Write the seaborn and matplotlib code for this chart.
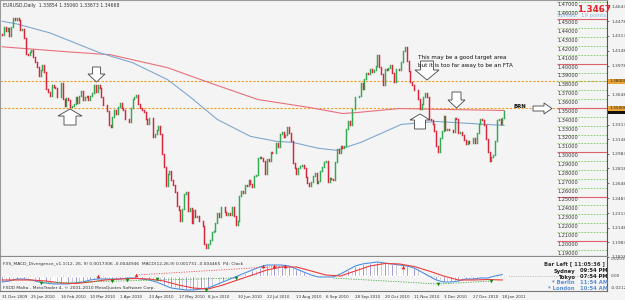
import numpy as np
import pandas as pd
import matplotlib
matplotlib.use("Agg")
import matplotlib.pyplot as plt
import seaborn as sns
from matplotlib.patches import Polygon, Rectangle

# ---------------- data ----------------
first_open = 1.4330
close_dec09 = [1.4321]
close_jan10 = [1.4413, 1.4364, 1.4403, 1.4313, 1.4411, 1.4513, 1.4494, 1.4513, 1.4496, 1.4385,
               1.4391, 1.4286, 1.4106, 1.4096, 1.4137, 1.4150, 1.4078, 1.4015, 1.3964, 1.3865]
close_feb10 = [1.3929, 1.3989, 1.3901, 1.3717, 1.3676, 1.3637, 1.3761, 1.3733, 1.3731, 1.3622,
               1.3629, 1.3784, 1.3604, 1.3522, 1.3614, 1.3588, 1.3511, 1.3523, 1.3540, 1.3628]
close_mar10 = [1.3561, 1.3630, 1.3696, 1.3586, 1.3624, 1.3634, 1.3595, 1.3638, 1.3669, 1.3757,
               1.3675, 1.3755, 1.3727, 1.3620, 1.3531, 1.3537, 1.3470, 1.3312, 1.3283, 1.3401,
               1.3475, 1.3432, 1.3509]
close_apr10 = [1.3553, 1.3497, 1.3477, 1.3379, 1.3374, 1.3345, 1.3500, 1.3600, 1.3625, 1.3652,
               1.3550, 1.3496, 1.3474, 1.3451, 1.3380, 1.3317, 1.3389, 1.3384, 1.3169, 1.3203,
               1.3247, 1.3295]
close_may10 = [1.3209, 1.2985, 1.2836, 1.2620, 1.2752, 1.2789, 1.2689, 1.2635, 1.2547, 1.2391,
               1.2347, 1.2220, 1.2361, 1.2527, 1.2556, 1.2337, 1.2373, 1.2206, 1.2352, 1.2271,
               1.2280]
close_jun10 = [1.2226, 1.2228, 1.2170, 1.1966, 1.1921, 1.1968, 1.2014, 1.2105, 1.2115, 1.2204,
               1.2319, 1.2268, 1.2387, 1.2386, 1.2321, 1.2289, 1.2316, 1.2292, 1.2380, 1.2280,
               1.2184, 1.2230]
close_jul10 = [1.2510, 1.2563, 1.2541, 1.2630, 1.2620, 1.2687, 1.2641, 1.2607, 1.2727, 1.2743,
               1.2935, 1.2945, 1.2939, 1.2899, 1.2759, 1.2928, 1.2900, 1.3000, 1.2990, 1.2995,
               1.3100, 1.3060]
close_aug10 = [1.3201, 1.3228, 1.3173, 1.3196, 1.3282, 1.3218, 1.3131, 1.2878, 1.2828, 1.2755,
               1.2825, 1.2850, 1.2854, 1.2818, 1.2719, 1.2654, 1.2623, 1.2663, 1.2728, 1.2762,
               1.2654, 1.2680]
close_sep10 = [1.2794, 1.2829, 1.2895, 1.2900, 1.2668, 1.2710, 1.2702, 1.2684, 1.2889, 1.3033,
               1.2992, 1.3072, 1.3053, 1.3070, 1.3260, 1.3354, 1.3308, 1.3487, 1.3490, 1.3619,
               1.3627, 1.3633]
close_oct10 = [1.3784, 1.3716, 1.3829, 1.3896, 1.3887, 1.3944, 1.3903, 1.3931, 1.3974, 1.4100,
               1.3965, 1.3889, 1.3760, 1.3940, 1.3929, 1.3948, 1.3988, 1.3890, 1.3795, 1.3935,
               1.3940]
close_nov10 = [1.3930, 1.4020, 1.4140, 1.4185, 1.4030, 1.3922, 1.3795, 1.3760, 1.3700, 1.3700,
               1.3600, 1.3487, 1.3546, 1.3620, 1.3670, 1.3620, 1.3375, 1.3360, 1.3320, 1.3235,
               1.3075, 1.3005]
close_dec10 = [1.3160, 1.3240, 1.3410, 1.3255, 1.3260, 1.3250, 1.3250, 1.3230, 1.3390, 1.3375,
               1.3220, 1.3230, 1.3190, 1.3140, 1.3090, 1.3130, 1.3105, 1.3107, 1.3165, 1.3110,
               1.3220, 1.3320, 1.3380]
close_jan11 = [1.3365, 1.3305, 1.3145, 1.3000, 1.2905, 1.2950, 1.2975, 1.3125, 1.3365, 1.3380,
               1.3315, 1.3385, 1.3467]

# moving averages (bar index, value)
ma_fast_bar = [0, 8, 26, 53, 71, 90, 102, 117, 135, 149, 158, 172, 182, 195, 206, 217, 236, 254, 273]
ma_fast = [1.4480, 1.4449, 1.4348, 1.4124, 1.4011, 1.3820, 1.3629, 1.3371, 1.3180, 1.3124,
           1.3112, 1.3045, 1.3022, 1.3112, 1.3213, 1.3315, 1.3348, 1.3326, 1.3303]
ma_slow_bar = [0, 35, 59, 90, 111, 139, 167, 185, 193, 216, 243, 273]
ma_slow = [1.4191, 1.4135, 1.4101, 1.3955, 1.3798, 1.3596, 1.3506, 1.3438, 1.3449, 1.3494,
           1.3483, 1.3472]

hline_levels = [1.3800, 1.3500]

grid_levels = [1.19, 1.20, 1.21, 1.22, 1.23, 1.24, 1.25, 1.26, 1.27, 1.28, 1.29, 1.30, 1.31,
               1.32, 1.33, 1.34, 1.35, 1.36, 1.37, 1.38, 1.39, 1.40, 1.41, 1.42, 1.43, 1.44,
               1.45, 1.46, 1.47]
round_levels = [1.20, 1.25, 1.30, 1.35, 1.40, 1.45]
axis_ticks = [1.4643, 1.4478, 1.4313, 1.4148, 1.3978, 1.3648, 1.3313, 1.3148, 1.2983,
              1.2818, 1.2648, 1.2483, 1.2313, 1.2148, 1.1983, 1.1818]

date_labels = ["31 Dec 2009", "25 Jan 2010", "16 Feb 2010", "10 Mar 2010", "1 Apr 2010",
               "23 Apr 2010", "17 May 2010", "8 Jun 2010", "30 Jun 2010", "22 Jul 2010",
               "13 Aug 2010", "6 Sep 2010", "28 Sep 2010", "20 Oct 2010", "11 Nov 2010",
               "3 Dec 2010", "27 Dec 2010", "18 Jan 2011"]

# MACD (every 4 bars) and signal (every 8 bars)
macd_hist = [-0.0068, -0.0057, -0.0034, -0.0034, -0.0045, -0.0068, -0.0079, -0.0090, -0.0090, -0.0090,
             -0.0079, -0.0068, -0.0045, -0.0034, -0.0034, -0.0034, -0.0034, -0.0023, -0.0023, -0.0034,
             -0.0045, -0.0068, -0.0102, -0.0136, -0.0147, -0.0158, -0.0158, -0.0147, -0.0136, -0.0102,
             -0.0068, -0.0034, 0.0, 0.0034, 0.0068, 0.0102, 0.0124, 0.0124, 0.0124, 0.0113,
             0.0079, 0.0045, 0.0011, -0.0011, -0.0011, -0.0011, 0.0023, 0.0068, 0.0113, 0.0136,
             0.0147, 0.0158, 0.0147, 0.0136, 0.0124, 0.0113, 0.0090, 0.0045, 0.0, -0.0045,
             -0.0068, -0.0068, -0.0057, -0.0034, -0.0034, -0.0023, -0.0023, 0.0, 0.0017]
macd_signal = [-0.0045, -0.0045, -0.0045, -0.0057, -0.0079, -0.0085, -0.0068, -0.0045, -0.0034, -0.0028,
               -0.0034, -0.0057, -0.0102, -0.0136, -0.0147, -0.0102, -0.0045, 0.0011, 0.0068, 0.0102,
               0.0102, 0.0057, 0.0011, 0.0, 0.0057, 0.0113, 0.0141, 0.0136, 0.0107, 0.0057,
               0.0, -0.0045, -0.0045, -0.0040, -0.0045]
div_red_bar = [52, 73, 142, 148, 154, 218]
div_red_val = [0.0, 0.0011, 0.0113, 0.0113, 0.0113, 0.0102]
div_green_bar = [21, 60, 68, 84, 111, 127, 237, 266]
div_green_val = [-0.0079, -0.0057, -0.0045, -0.0034, -0.0158, -0.0023, -0.0090, -0.0057]

# ---------------- style ----------------
sns.set_style("white")
plt.rcParams["font.family"] = ["DejaVu Sans"]
BG = "#f4f4f4"
UP, DN = "#35a853", "#d7263a"

closes = (close_dec09 + close_jan10 + close_feb10 + close_mar10 + close_apr10 + close_may10 +
          close_jun10 + close_jul10 + close_aug10 + close_sep10 + close_oct10 + close_nov10 +
          close_dec10 + close_jan11)
n = len(closes)
opens = [first_open] + closes[:-1]
df = pd.DataFrame({"bar": np.arange(n), "open": opens, "close": closes})
df["up"] = df["close"] >= df["open"]

W, H = 625, 300
fig = plt.figure(figsize=(6.25, 3.0), dpi=100, facecolor=BG)


def px_axes(x0, y0, x1, y1):
    return fig.add_axes([x0 / W, 1 - y1 / H, (x1 - x0) / W, (y1 - y0) / H])


ax = px_axes(0, 0, 607, 257)
ax2 = px_axes(0, 257, 607, 291)
ov = px_axes(0, 0, 625, 300)

XL = (-2 / 1.84, 605 / 1.84)
for a in (ax, ax2):
    a.set_facecolor(BG)
    a.set_xlim(*XL)
ax.set_ylim(1.20 - 15 / 890, 1.20 + 242 / 890)
ax2.set_ylim(-0.01695, 0.02147)

# candles
upd = df[df["up"]]
dnd = df[~df["up"]]
ax.vlines(upd["bar"], upd["open"], upd["close"], colors=UP, lw=1.05, capstyle="projecting", zorder=3)
ax.vlines(dnd["bar"], dnd["open"], dnd["close"], colors=DN, lw=1.05, capstyle="projecting", zorder=3)

# moving averages
sns.lineplot(x=ma_slow_bar, y=ma_slow, ax=ax, color="#e8707c", lw=0.8, legend=False, zorder=2)
sns.lineplot(x=ma_fast_bar, y=ma_fast, ax=ax, color="#7fa8cf", lw=0.8, legend=False, zorder=2)

# horizontal lines
for lv in hline_levels:
    ax.axhline(lv, color="#f0a020", lw=0.8, ls=(0, (2, 1.5)), zorder=1)

# right price grid labels
ytr = ax.get_yaxis_transform()
for lv in grid_levels:
    if any(abs(lv - r) < 1e-9 for r in round_levels):
        ax.hlines(lv, 557 / 607, 1, transform=ytr, color="#e06070", lw=0.8, zorder=2)
    else:
        ax.hlines(lv, 557 / 607, 1, transform=ytr, color="#7cc860", lw=0.6,
                  ls=(0, (2, 1.6)), zorder=2)
    ax.text(557.5 / 607, lv - 0.0009, f"{lv:.5f}", transform=ytr, fontsize=3.6,
            color="#333333", ha="left", va="top", zorder=4)

# right axis
ax.yaxis.tick_right()
ax.set_yticks(axis_ticks)
ax.set_yticklabels([f"{v:.5f}" for v in axis_ticks])
ax.tick_params(axis="y", labelsize=3.2, length=1.5, pad=1.5, colors="#444444", width=0.5)
ax.set_xticks([])
ax.set_xlabel("")
ax.set_ylabel("")
for s in ("left", "top"):
    ax.spines[s].set_color("#9a9a9a")
    ax.spines[s].set_linewidth(0.8)
ax.spines["right"].set_color("#555555")
ax.spines["right"].set_linewidth(0.8)
ax.spines["bottom"].set_color("#8a8a8a")
ax.spines["bottom"].set_linewidth(1.6)

# ---------------- MACD panel ----------------
macd_bar = np.arange(len(macd_hist)) * 4
sig_bar = np.arange(len(macd_signal)) * 8
ax2.bar(macd_bar, macd_hist, width=1.0, color="#6656c8", zorder=2)
ax2.bar(macd_bar + 2, macd_hist, width=1.0, color="#a9a9b8", zorder=2)
ax2.axhline(0, color="#9a9a9a", lw=0.5, ls=(0, (1, 1.5)), zorder=1)
sns.lineplot(x=macd_bar, y=macd_hist, ax=ax2, color="#4d8fe0", lw=0.8, legend=False, zorder=3)
sns.lineplot(x=sig_bar, y=macd_signal, ax=ax2, color="#ee3b3b", lw=0.8, legend=False, zorder=3)
ax2.plot([div_red_bar[1], div_red_bar[4]], [div_red_val[1], div_red_val[4]],
         color="#ee5555", lw=0.6, ls=(0, (1.5, 1.5)), zorder=3)
ax2.plot([div_green_bar[0], div_green_bar[5]], [div_green_val[0], div_green_val[5]],
         color="#44aa44", lw=0.6, ls=(0, (1.5, 1.5)), zorder=3)
ax2.plot([180, div_green_bar[6], div_green_bar[7]], [-0.0023, div_green_val[6], div_green_val[7]],
         color="#44aa44", lw=0.6, ls=(0, (1.5, 1.5)), zorder=3)
sns.scatterplot(x=div_red_bar, y=div_red_val, ax=ax2, color="#e02020", marker="^", s=7,
                linewidth=0, legend=False, zorder=4)
sns.scatterplot(x=div_green_bar, y=div_green_val, ax=ax2, color="#128a12", marker="v", s=7,
                linewidth=0, legend=False, zorder=4)

ax2.set_xticks(np.arange(len(date_labels)) * 16)
ax2.set_xticklabels(date_labels, ha="left")
ax2.tick_params(axis="x", labelsize=2.9, length=2, pad=1.2, colors="#333333", width=0.5)
ax2.yaxis.tick_right()
ax2.set_yticks([])
ax2.set_xlabel("")
ax2.set_ylabel("")
ax2.spines["top"].set_visible(False)
ax2.spines["left"].set_color("#9a9a9a")
ax2.spines["left"].set_linewidth(0.8)
ax2.spines["right"].set_color("#555555")
ax2.spines["right"].set_linewidth(0.8)
ax2.spines["bottom"].set_color("#777777")
ax2.spines["bottom"].set_linewidth(0.8)

# ---------------- overlay (pixel coordinates) ----------------
ov.set_xlim(0, W)
ov.set_ylim(H, 0)
ov.axis("off")
ov.patch.set_alpha(0)


def down_arrow(cx, top, tip, sw, hw, hh):
    pts = [(cx - sw / 2, top), (cx + sw / 2, top), (cx + sw / 2, tip - hh), (cx + hw / 2, tip - hh),
           (cx, tip), (cx - hw / 2, tip - hh), (cx - sw / 2, tip - hh)]
    ov.add_patch(Polygon(pts, closed=True, fc="white", ec="#444444", lw=0.6, zorder=5))


def up_arrow(cx, tip, bottom, sw, hw, hh):
    pts = [(cx, tip), (cx + hw / 2, tip + hh), (cx + sw / 2, tip + hh), (cx + sw / 2, bottom),
           (cx - sw / 2, bottom), (cx - sw / 2, tip + hh), (cx - hw / 2, tip + hh)]
    ov.add_patch(Polygon(pts, closed=True, fc="white", ec="#444444", lw=0.6, zorder=5))


down_arrow(96.5, 67, 82, 8, 17, 8)
up_arrow(70, 109, 125, 12, 24, 7)
down_arrow(427, 61, 80, 13, 24, 10)
up_arrow(420, 114, 129, 11, 20, 6)
down_arrow(456.5, 92, 108, 9, 17, 8)
ov.add_patch(Polygon([(533, 106), (544, 106), (544, 103), (552, 108.5), (544, 114), (544, 111), (533, 111)],
                     closed=True, fc="white", ec="#444444", lw=0.6, zorder=5))

ov.text(418, 58, "This may be a good target area", fontsize=4.1, color="#111111", va="center", zorder=6)
ov.text(418, 66, "but it is too far away to be an FTA", fontsize=4.1, color="#111111", va="center", zorder=6)
ov.text(513, 107, "BRN", fontsize=3.9, color="#111111", fontweight="bold", va="center", zorder=6)

ov.text(3, 5, "EURUSD,Daily  1.33854 1.35060 1.33673 1.34668", fontsize=3.3, color="#333333", va="center")
ov.text(577, 9, "1.3467", fontsize=6.3, color="#e8202a", fontweight="bold", va="center", zorder=6)
ov.text(557, 16, "Spread:  19 points", fontsize=3.9, color="#8fb4d8", va="center", zorder=6)

# axis price boxes
ov.add_patch(Rectangle((608, 79), 17, 5, fc="#eba436", ec="none", zorder=5))
ov.text(609, 81.5, "1.38000", fontsize=3.1, color="#222222", va="center", zorder=6)
ov.add_patch(Rectangle((608, 106), 17, 4.5, fc="#eba436", ec="none", zorder=5))
ov.text(609, 108.3, "1.35000", fontsize=3.1, color="#222222", va="center", zorder=6)
ov.add_patch(Rectangle((608, 110.5), 17, 3.5, fc="#111111", ec="none", zorder=5))

# indicator texts
ov.text(3, 264, "FXS_MACD_Divergence_v1.1(12, 26, 9) 0.0017306 -0.0044946  MACD(12,26,9) 0.001731 -0.004465  P4: Clock",
        fontsize=3.2, color="#333333", va="center", zorder=6)
ov.text(3, 288, "FXDD Malta - MetaTrader 4, \u00a9 2001-2010 MetaQuotes Software Corp.",
        fontsize=3.2, color="#333333", va="center", zorder=6)
ov.text(611, 258.5, "0.02039", fontsize=3.1, color="#444444", va="center")
ov.text(611, 276, "0.00", fontsize=3.1, color="#444444", va="center")
ov.text(611, 288, "-0.0212", fontsize=3.1, color="#444444", va="center")

ov.text(605, 264, "Bar Left [ 11:05:36 ]", fontsize=3.8, color="#333333", fontweight="bold",
        ha="right", va="center", zorder=6)
clock_rows = [("Sydney", "09:54 PM", "#222222", 271), ("Tokyo", "07:54 PM", "#222222", 277),
              ("* Berlin", "11:54 AM", "#5b8fd6", 283), ("* London", "10:54 AM", "#5b8fd6", 289)]
for city, tm, col, yy in clock_rows:
    ov.text(575, yy, city, fontsize=3.8, color=col, fontweight="bold", ha="right", va="center", zorder=6)
    ov.text(580, yy, tm, fontsize=3.8, color=col, fontweight="bold", ha="left", va="center", zorder=6)

fig.savefig("out.png", dpi=100, facecolor=BG)
